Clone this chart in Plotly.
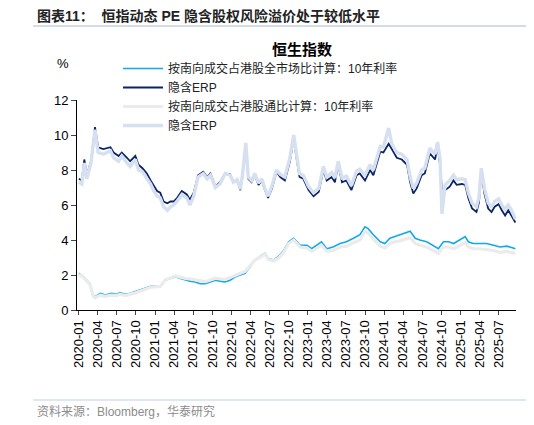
import plotly.graph_objects as go

# ---------------- data ----------------
erp_dates = [
    "2020-01-02", "2020-01-16", "2020-01-28", "2020-02-09", "2020-02-29", "2020-03-19", "2020-04-03",
    "2020-04-28", "2020-06-01", "2020-06-16", "2020-07-10", "2020-07-25", "2020-08-19", "2020-09-03",
    "2020-09-28", "2020-10-13", "2020-11-01", "2020-11-22", "2020-12-10", "2020-12-25",
    "2021-01-10", "2021-01-25", "2021-02-10", "2021-02-28", "2021-03-15", "2021-03-30", "2021-04-15",
    "2021-05-08", "2021-06-01", "2021-06-16", "2021-07-04", "2021-07-25", "2021-08-19", "2021-09-06",
    "2021-09-22", "2021-10-16", "2021-11-07", "2021-12-01", "2021-12-25",
    "2022-01-10", "2022-01-28", "2022-02-12", "2022-02-22", "2022-03-10", "2022-03-22", "2022-04-07",
    "2022-04-22", "2022-05-10", "2022-05-25", "2022-06-10", "2022-06-25", "2022-07-13", "2022-08-04",
    "2022-08-22", "2022-09-13", "2022-10-07", "2022-10-25", "2022-11-10", "2022-11-22", "2022-12-10",
    "2023-01-04", "2023-01-28", "2023-02-22", "2023-03-16", "2023-04-01", "2023-04-25", "2023-05-10",
    "2023-05-26", "2023-06-13", "2023-07-04", "2023-07-28", "2023-08-22", "2023-09-06", "2023-10-01",
    "2023-10-25", "2023-11-10", "2023-11-25", "2023-12-13", "2023-12-28",
    "2024-01-22", "2024-02-06", "2024-03-01", "2024-03-25", "2024-04-19", "2024-05-04", "2024-05-19",
    "2024-06-04", "2024-06-28", "2024-07-13", "2024-08-06", "2024-08-31", "2024-09-12", "2024-09-24",
    "2024-10-03", "2024-10-18", "2024-11-09", "2024-11-27", "2024-12-12",
    "2025-01-06", "2025-01-22", "2025-02-06", "2025-02-24", "2025-03-17", "2025-03-29", "2025-04-09",
    "2025-04-24", "2025-05-12", "2025-05-28", "2025-06-12", "2025-07-01", "2025-07-16", "2025-08-01",
    "2025-08-16", "2025-09-01", "2025-09-19",
]
erp_all = [
    7.5, 7.4, 8.6, 7.7, 8.5, 10.45, 9.3, 9.2, 9.3, 9.0, 8.8, 9.0, 8.7, 8.5, 8.8, 8.3, 8.1, 7.8, 7.4, 7.1,
    6.8, 6.7, 6.2, 6.1, 6.2, 6.2, 6.4, 6.8, 6.6, 6.3, 6.7, 7.7, 7.9, 7.6, 7.8, 7.05, 7.3, 7.8, 7.75,
    7.3, 7.4, 6.85, 7.6, 9.5, 7.5, 7.3, 7.7, 7.15, 7.4, 6.85, 6.4, 6.95, 7.9, 7.6, 7.4, 8.5, 9.8, 8.5,
    7.6, 7.5,
    6.85, 6.5, 6.75, 8.0, 7.4, 7.6, 7.3, 8.3, 7.3, 7.4, 6.85, 7.7, 7.8, 7.4, 8.0, 7.7, 8.3, 9.05, 9.0,
    9.5, 9.2, 8.7, 8.6, 8.3, 7.3, 6.65, 6.95, 7.7, 7.8, 8.95, 8.6, 9.35, 8.3, 6.85, 6.85, 7.05, 7.4, 7.15,
    7.2, 7.15, 6.4, 5.8, 5.6, 6.15, 7.9, 6.65, 5.8, 5.6, 5.9, 6.05, 5.7, 5.4, 5.7, 5.4, 5.0,
]
erp_connect = [
    7.3, 7.2, 8.4, 7.5, 8.4, 10.3, 9.0, 8.9, 9.1, 8.7, 8.5, 8.8, 8.4, 8.2, 8.6, 8.0, 7.9, 7.5, 7.2, 6.8,
    6.5, 6.4, 5.9, 5.7, 5.9, 6.0, 6.2, 6.6, 6.4, 6.0, 6.5, 7.6, 7.8, 7.5, 7.7, 7.0, 7.2, 7.8, 7.7,
    7.3, 7.45, 6.9, 7.7, 9.55, 7.6, 7.4, 7.8, 7.25, 7.5, 6.95, 6.5, 7.1, 8.0, 7.75, 7.6, 8.7, 10.0, 8.7,
    7.8, 7.7,
    7.05, 6.7, 6.95, 8.2, 7.6, 7.85, 7.55, 8.5, 7.55, 7.65, 7.1, 7.95, 8.05, 7.7, 8.3, 8.0, 8.6, 9.35, 9.3,
    10.4, 9.5, 9.0, 8.9, 8.6, 7.6, 6.95, 7.25, 8.0, 8.1, 9.25, 8.9, 9.6, 8.6, 5.5, 7.15, 7.4, 7.7, 7.45,
    7.5, 7.45, 6.7, 6.1, 5.9, 6.45, 8.1, 6.95, 6.1, 5.9, 6.2, 6.35, 6.0, 5.75, 6.0, 5.7, 5.2,
]

rate_dates = [
    "2020-01-02", "2020-01-25", "2020-02-24", "2020-03-10", "2020-03-19", "2020-04-13", "2020-05-07",
    "2020-06-07", "2020-07-01", "2020-07-16", "2020-08-10", "2020-09-04", "2020-09-28", "2020-10-22",
    "2020-11-16", "2020-12-10",
    "2021-01-01", "2021-01-25", "2021-02-18", "2021-03-13", "2021-04-07", "2021-05-01", "2021-05-25",
    "2021-06-16", "2021-07-10", "2021-08-04", "2021-08-28", "2021-09-22", "2021-10-16", "2021-11-07",
    "2021-12-01", "2021-12-25",
    "2022-01-19", "2022-02-12", "2022-03-07", "2022-04-01", "2022-04-22", "2022-05-16", "2022-06-10",
    "2022-06-25", "2022-07-19", "2022-08-13", "2022-09-07", "2022-10-01", "2022-10-25", "2022-11-25",
    "2022-12-28",
    "2023-01-19", "2023-02-12", "2023-03-07", "2023-04-01", "2023-05-01", "2023-06-04", "2023-07-04",
    "2023-08-07", "2023-09-07", "2023-10-01", "2023-10-16", "2023-11-10", "2023-12-13",
    "2024-01-04", "2024-01-28", "2024-02-21", "2024-03-16", "2024-04-10", "2024-05-04", "2024-05-28",
    "2024-06-19", "2024-07-22", "2024-08-22", "2024-09-16", "2024-10-10", "2024-11-04", "2024-11-28",
    "2024-12-28",
    "2025-01-22", "2025-02-06", "2025-03-01", "2025-04-01", "2025-05-04", "2025-06-07", "2025-07-07",
    "2025-08-10", "2025-09-10", "2025-09-19",
]
rate_all = [
    2.1, 1.9, 1.5, 0.86, 0.76, 0.95, 0.86, 0.95, 0.9, 1.0, 0.9, 0.95, 1.05, 1.15, 1.25, 1.35,
    1.35, 1.37, 1.7, 1.8, 1.9, 1.8, 1.7, 1.65, 1.6, 1.5, 1.5, 1.6, 1.7, 1.65, 1.6, 1.7,
    1.9, 2.0, 2.1, 2.5, 2.85, 3.05, 3.25, 2.95, 2.85, 3.05, 3.4, 3.9, 4.1, 3.7, 3.7,
    3.5, 3.7, 3.9, 3.5, 3.6, 3.8, 3.9, 4.1, 4.3, 4.75, 4.65, 4.3, 3.9,
    3.8, 4.1, 4.2, 4.3, 4.4, 4.5, 4.1, 4.0, 3.9, 3.7, 3.5, 3.9, 3.9, 3.8, 4.0,
    4.2, 3.9, 3.8, 3.8, 3.8, 3.7, 3.6, 3.65, 3.5, 3.5,
]
rate_connect = [
    2.05, 1.85, 1.45, 0.8, 0.7, 0.85, 0.78, 0.85, 0.82, 0.9, 0.82, 0.88, 0.98, 1.08, 1.2, 1.3,
    1.32, 1.35, 1.72, 1.85, 1.95, 1.88, 1.8, 1.78, 1.72, 1.65, 1.62, 1.72, 1.82, 1.78, 1.75, 1.85,
    2.0, 2.1, 2.2, 2.55, 2.85, 3.0, 3.2, 2.9, 2.8, 2.95, 3.3, 3.8, 4.0, 3.6, 3.55,
    3.35, 3.55, 3.7, 3.35, 3.4, 3.6, 3.65, 3.85, 4.0, 4.5, 4.4, 4.05, 3.65,
    3.55, 3.8, 3.9, 3.95, 4.05, 4.15, 3.8, 3.7, 3.6, 3.4, 3.25, 3.6, 3.6, 3.5, 3.7,
    3.85, 3.6, 3.5, 3.5, 3.45, 3.4, 3.3, 3.35, 3.25, 3.25,
]

series_names = [
    "按南向成交占港股全市场比计算：10年利率",
    "隐含ERP",
    "按南向成交占港股通比计算：10年利率",
    "隐含ERP",
]
tick_dates = [f"{y}-{m:02d}-01" for y in range(2020, 2026) for m in (1, 4, 7, 10)]
tick_dates = [d for d in tick_dates if d <= "2025-07-01"]

# ---------------- layout helpers (page pixels -> paper coords) ----------------
# The page body adds an 8px offset; the figure is sized so that it fits the window.
W_FIG, H_FIG = 526, 417
ML, MR, MT, MB = 69, 18, 92, 115
PW, PH = W_FIG - ML - MR, H_FIG - MT - MB


def px(xw):
    return (xw - 8 - ML) / PW


def py(yw):
    return (H_FIG - MB - (yw - 8)) / PH


# ---------------- figure ----------------
FONT = "Liberation Sans, Arial, Noto Sans CJK SC"
fig = go.Figure()
fig.add_trace(go.Scatter(x=rate_dates, y=rate_all, name=series_names[0], mode="lines",
                         line=dict(color="#12a9e8", width=1.6)))
fig.add_trace(go.Scatter(x=erp_dates, y=erp_all, name=series_names[1], mode="lines",
                         line=dict(color="#0b2464", width=1.8)))
fig.add_trace(go.Scatter(x=rate_dates, y=rate_connect, name=series_names[2], mode="lines",
                         line=dict(color="#ebebeb", width=3.2)))
fig.add_trace(go.Scatter(x=erp_dates, y=erp_connect, name=series_names[3], mode="lines",
                         line=dict(color="#d6e0f1", width=3.4)))

fig.update_layout(
    width=W_FIG, height=H_FIG,
    margin=dict(l=ML, r=MR, t=MT, b=MB, autoexpand=False),
    paper_bgcolor="white", plot_bgcolor="white",
    font=dict(family=FONT, size=12, color="#000000"),
    showlegend=True,
    legend=dict(x=px(118), y=py(54), xanchor="left", yanchor="top", bgcolor="rgba(0,0,0,0)",
                font=dict(family="Liberation Sans, Noto Sans CJK SC", size=12, color="#222"),
                itemwidth=40, tracegroupgap=0),
    xaxis=dict(type="date", range=["2019-12-24", "2025-09-22"], tickvals=tick_dates,
               tickformat="%Y-%m", tickangle=-90, ticks="outside", ticklen=4,
               showline=True, linecolor="#000", linewidth=1, showgrid=False, zeroline=False,
               tickfont=dict(size=13, family=FONT)),
    yaxis=dict(range=[0, 12], dtick=2, ticks="outside", ticklen=5, showline=True,
               linecolor="#000", linewidth=1, showgrid=False, zeroline=False,
               tickfont=dict(size=13, family=FONT)),
)

fig.add_annotation(xref="paper", yref="paper", x=px(35), y=py(16),
                   xanchor="left", yanchor="middle", showarrow=False,
                   text="<b>图表11：  恒指动态 PE 隐含股权风险溢价处于较低水平</b>",
                   font=dict(family="Liberation Sans, Noto Sans CJK SC", size=14, color="#222"))
fig.add_annotation(xref="paper", yref="paper", x=px(302), y=py(48),
                   xanchor="center", yanchor="middle", showarrow=False,
                   text="<b>恒生指数</b>",
                   font=dict(family="Noto Sans CJK SC", size=15, color="#000"))
fig.add_annotation(xref="paper", yref="paper", x=px(63), y=py(64),
                   xanchor="center", yanchor="middle", showarrow=False, text="%",
                   font=dict(family=FONT, size=13, color="#000"))
fig.add_annotation(xref="paper", yref="paper", x=px(35), y=py(411),
                   xanchor="left", yanchor="middle", showarrow=False,
                   text="资料来源：Bloomberg，华泰研究",
                   font=dict(family="Liberation Sans, Noto Sans CJK SC", size=12, color="#8c8c8c"))
fig.add_shape(type="line", xref="paper", yref="paper", x0=px(33), x1=px(534),
              y0=py(26), y1=py(26), line=dict(color="#a9bccf", width=1.2))
fig.add_shape(type="line", xref="paper", yref="paper", x0=px(33), x1=px(534),
              y0=py(400), y1=py(400), line=dict(color="#c3d0dd", width=1.2))

fig.write_html("out.html")
